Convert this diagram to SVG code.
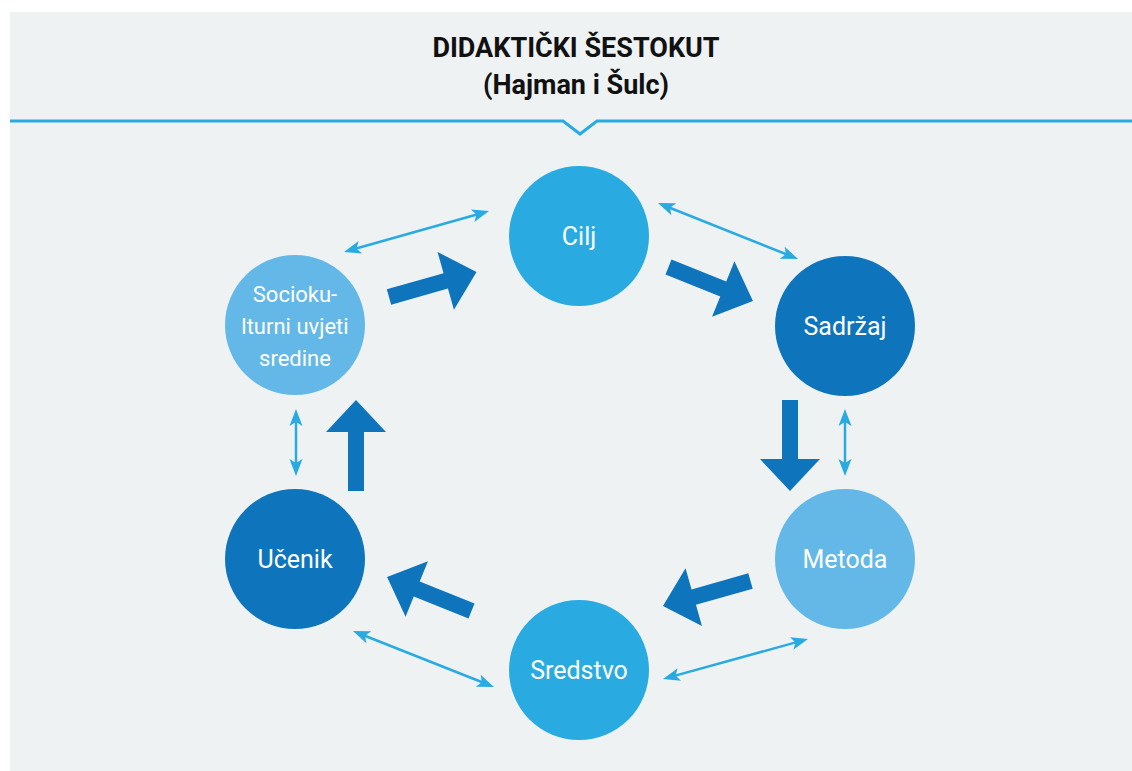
<svg xmlns="http://www.w3.org/2000/svg" width="1132" height="771" viewBox="0 0 1132 771">
<style>
.title{font-family:Roboto,"Liberation Sans",sans-serif;font-weight:bold;font-size:27px;fill:#111;text-anchor:middle}
.lbl{font-family:Roboto,"Liberation Sans",sans-serif;font-size:25px;fill:#fff;text-anchor:middle}
.lbl2{font-family:Roboto,"Liberation Sans",sans-serif;font-size:22px;fill:#fff;text-anchor:middle}
.big{fill:#0e75bc}
.thin{stroke:#29abe2;stroke-width:2.5;fill:none;marker-start:url(#ah);marker-end:url(#ah)}
.c1{fill:#29abe2}.c2{fill:#0e75bc}.c3{fill:#63b8e8}
</style>
<defs>
<marker id="ah" markerUnits="userSpaceOnUse" viewBox="0 -7 17 14" markerWidth="17" markerHeight="14" refX="9" refY="0" orient="auto-start-reverse">
<path d="M0,-6.5 L17,0 L0,6.5 L4,0 Z" fill="#29abe2"/>
</marker>
<path id="barrow" d="M0,-8 L59,-8 L59,-30 L91,0 L59,30 L59,8 L0,8 Z"/>
</defs>
<rect x="0" y="0" width="1132" height="771" fill="#fff"/>
<rect x="10" y="12" width="1122" height="759" fill="#eef2f3"/>
<path d="M10,121 L563,121 L580,134 L597,121 L1132,121" fill="none" stroke="#29abe2" stroke-width="3"/>
<g id="title">
<text class="title" x="576" y="57">DIDAKTIČKI ŠESTOKUT</text>
<text class="title" x="576" y="94">(Hajman i Šulc)</text>
</g>
<g id="connectors">
<use href="#barrow" class="big" transform="translate(389,297) rotate(-15.9)"/>
<use href="#barrow" class="big" transform="translate(668.5,267) rotate(21.9)"/>
<use href="#barrow" class="big" transform="translate(790,400) rotate(90)"/>
<use href="#barrow" class="big" transform="translate(750.5,581) rotate(164.1)"/>
<use href="#barrow" class="big" transform="translate(471.5,611) rotate(-158.1)"/>
<use href="#barrow" class="big" transform="translate(356,491) rotate(-90)"/>
<line class="thin" x1="351.7" y1="249.8" x2="481.3" y2="213.2"/>
<line class="thin" x1="665.4" y1="206" x2="790.6" y2="256"/>
<line class="thin" x1="845" y1="417" x2="845" y2="468"/>
<line class="thin" x1="800.3" y1="641.1" x2="670.7" y2="676.9"/>
<line class="thin" x1="360.4" y1="634" x2="486.6" y2="684"/>
<line class="thin" x1="296" y1="417" x2="296" y2="468"/>
</g>
<g id="cilj"><circle class="c1" cx="579" cy="236" r="70"/><text class="lbl" x="579" y="245">Cilj</text></g>
<g id="sadrzaj"><circle class="c2" cx="845" cy="326" r="70"/><text class="lbl" x="845" y="335">Sadržaj</text></g>
<g id="metoda"><circle class="c3" cx="845" cy="559" r="70"/><text class="lbl" x="845" y="568">Metoda</text></g>
<g id="sredstvo"><circle class="c1" cx="579" cy="670" r="70"/><text class="lbl" x="579" y="679">Sredstvo</text></g>
<g id="ucenik"><circle class="c2" cx="295" cy="559" r="70"/><text class="lbl" x="295" y="568">Učenik</text></g>
<g id="sociokulturni"><circle class="c3" cx="295" cy="325" r="70"/>
<text class="lbl2" x="295" y="302">Socioku-</text>
<text class="lbl2" x="295" y="334">lturni uvjeti</text>
<text class="lbl2" x="295" y="366">sredine</text></g>
</svg>
